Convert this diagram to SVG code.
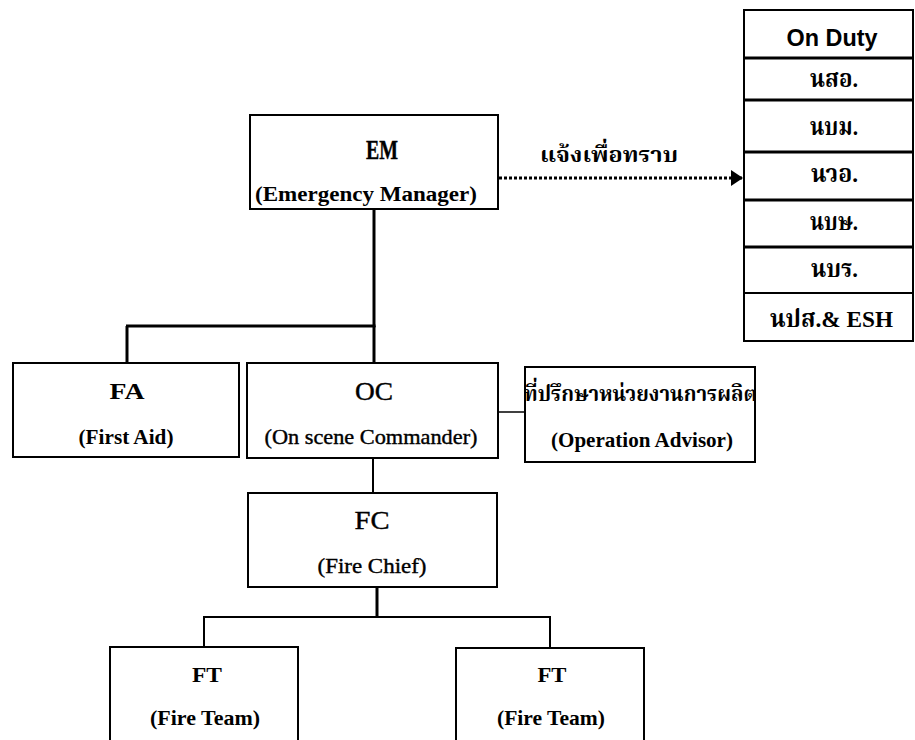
<svg xmlns="http://www.w3.org/2000/svg" width="915" height="740" viewBox="0 0 915 740">
  <style>
    .box { fill: #fff; stroke: #000; stroke-width: 2; }
    .t { font-family: "Liberation Serif", "Times New Roman", serif; fill: #000; text-anchor: middle; }
    .b { font-weight: bold; }
    .ink { stroke: #000; stroke-width: 0.4; }
    .th { font-family: "Liberation Serif", "Noto Serif Thai", "Noto Sans Thai", "Loma", "Garuda", serif; font-weight: bold; fill: #000; }
    .duty { font-family: "Liberation Sans", Arial, sans-serif; font-weight: bold; fill: #000; text-anchor: middle; }
    .link { stroke: #000; fill: none; }
    .heavy { stroke-width: 3; }
    .mid { stroke-width: 2; }
    .thin { stroke-width: 1.5; }
    .dots { stroke: #000; stroke-width: 3; stroke-dasharray: 3 2; fill: none; }
  </style>
  <defs>
    <marker id="arrow" markerWidth="12" markerHeight="16" refX="12" refY="8" orient="auto" markerUnits="userSpaceOnUse">
      <path d="M0,0 L12,8 L0,16 Z" fill="#000"/>
    </marker>
  </defs>

  <rect width="915" height="740" fill="#fff"/>

  <!-- connectors -->
  <g id="connectors">
    <line class="dots" x1="499" y1="178" x2="743" y2="178" marker-end="url(#arrow)"/>
    <line class="link heavy" x1="374" y1="209" x2="374" y2="327"/>
    <line class="link heavy" x1="126" y1="326" x2="375.5" y2="326"/>
    <line class="link heavy" x1="127" y1="326" x2="127" y2="363"/>
    <line class="link heavy" x1="374" y1="326" x2="374" y2="363"/>
    <line class="link thin" x1="498" y1="412" x2="525" y2="412"/>
    <line class="link mid" x1="373" y1="458" x2="373" y2="493"/>
    <line class="link heavy" x1="377" y1="587" x2="377" y2="618"/>
    <line class="link mid" x1="203" y1="617" x2="551" y2="617"/>
    <line class="link mid" x1="204" y1="617" x2="204" y2="647"/>
    <line class="link mid" x1="550" y1="617" x2="550" y2="648"/>
  </g>

  <!-- notification label on the dotted connector -->
  <text class="th" x="540" y="162" font-size="22" textLength="138" lengthAdjust="spacingAndGlyphs">แจ้งเพื่อทราบ</text>

  <g id="em">
    <rect class="box" x="250" y="115" width="248" height="94"/>
    <text class="t b ink" x="382" y="159" font-size="27" textLength="32" lengthAdjust="spacingAndGlyphs">EM</text>
    <text class="t b" x="366" y="201" font-size="20" textLength="222" lengthAdjust="spacingAndGlyphs">(Emergency Manager)</text>
  </g>

  <g id="on-duty">
    <rect class="box" x="744" y="10" width="169" height="331"/>
    <line class="link heavy" x1="744" y1="58" x2="913" y2="58"/>
    <line class="link heavy" x1="744" y1="100" x2="913" y2="100"/>
    <line class="link heavy" x1="744" y1="152" x2="913" y2="152"/>
    <line class="link heavy" x1="744" y1="200" x2="913" y2="200"/>
    <line class="link heavy" x1="744" y1="247" x2="913" y2="247"/>
    <line class="link mid" x1="744" y1="293" x2="913" y2="293"/>
    <text class="duty" x="832" y="46" font-size="24" textLength="91" lengthAdjust="spacingAndGlyphs">On Duty</text>
    <text class="th" x="810" y="87" font-size="24" textLength="48" lengthAdjust="spacingAndGlyphs">นสอ.</text>
    <text class="th" x="810" y="135" font-size="24" textLength="48" lengthAdjust="spacingAndGlyphs">นบม.</text>
    <text class="th" x="811" y="182" font-size="24" textLength="47" lengthAdjust="spacingAndGlyphs">นวอ.</text>
    <text class="th" x="810" y="230" font-size="24" textLength="48" lengthAdjust="spacingAndGlyphs">นบษ.</text>
    <text class="th" x="811" y="277" font-size="24" textLength="47" lengthAdjust="spacingAndGlyphs">นบร.</text>
    <text class="th" x="770" y="327" font-size="24" textLength="123" lengthAdjust="spacingAndGlyphs">นปส.&amp; ESH</text>
  </g>

  <g id="fa">
    <rect class="box" x="13" y="363" width="226" height="94"/>
    <text class="t b" x="127" y="399" font-size="23" textLength="35" lengthAdjust="spacingAndGlyphs">FA</text>
    <text class="t b" x="126" y="444" font-size="21" textLength="95" lengthAdjust="spacingAndGlyphs">(First Aid)</text>
  </g>

  <g id="oc">
    <rect class="box" x="247" y="363" width="251" height="95"/>
    <text class="t ink" x="374" y="400" font-size="25" textLength="38" lengthAdjust="spacingAndGlyphs">OC</text>
    <text class="t ink" x="371" y="444" font-size="22" textLength="213" lengthAdjust="spacingAndGlyphs">(On scene Commander)</text>
  </g>

  <g id="advisor">
    <rect class="box" x="525" y="367" width="230" height="95"/>
    <text class="th" x="524" y="401" font-size="22" textLength="233" lengthAdjust="spacingAndGlyphs">ที่ปรึกษาหน่วยงานการผลิต</text>
    <text class="t b" x="642" y="447" font-size="21" textLength="182" lengthAdjust="spacingAndGlyphs">(Operation Advisor)</text>
  </g>

  <g id="fc">
    <rect class="box" x="248" y="493" width="249" height="94"/>
    <text class="t ink" x="372" y="529" font-size="25" textLength="35" lengthAdjust="spacingAndGlyphs">FC</text>
    <text class="t ink" x="372" y="573" font-size="22" textLength="109" lengthAdjust="spacingAndGlyphs">(Fire Chief)</text>
  </g>

  <g id="ft-1">
    <rect class="box" x="110" y="647" width="188" height="100"/>
    <text class="t b" x="207" y="682" font-size="22" textLength="30" lengthAdjust="spacingAndGlyphs">FT</text>
    <text class="t b" x="205" y="725" font-size="22" textLength="110" lengthAdjust="spacingAndGlyphs">(Fire Team)</text>
  </g>

  <g id="ft-2">
    <rect class="box" x="456" y="648" width="188" height="100"/>
    <text class="t b" x="552" y="682" font-size="22" textLength="29" lengthAdjust="spacingAndGlyphs">FT</text>
    <text class="t b" x="551" y="725" font-size="22" textLength="108" lengthAdjust="spacingAndGlyphs">(Fire Team)</text>
  </g>
</svg>
